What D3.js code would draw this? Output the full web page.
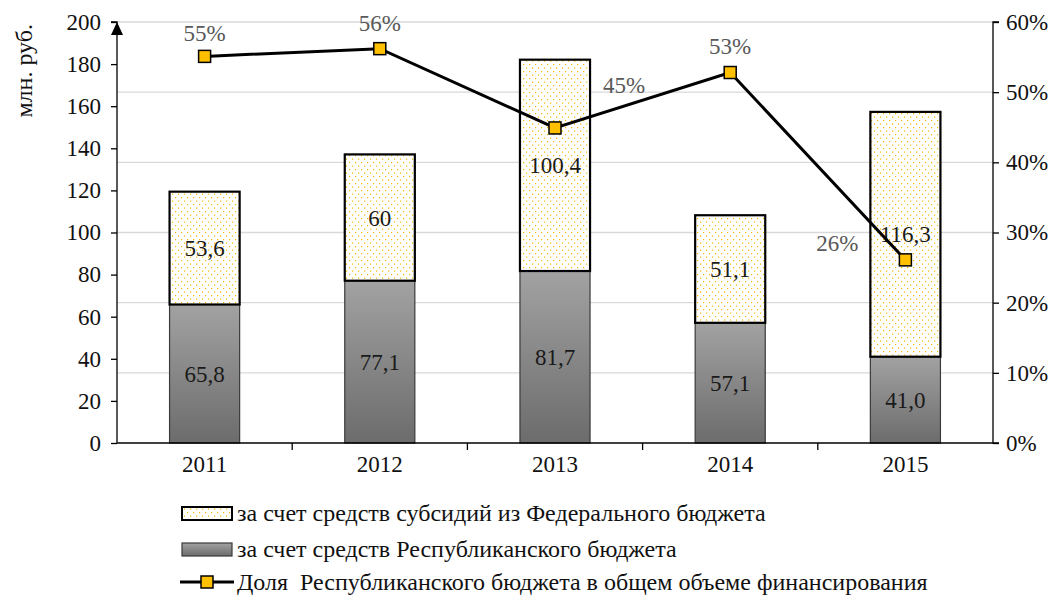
<!DOCTYPE html>
<html><head><meta charset="utf-8">
<script src="https://cdn.jsdelivr.net/npm/d3@7"></script>
<style>body{margin:0;background:#fff;} svg text{font-family:"Liberation Serif","DejaVu Serif",serif !important;}</style>
</head><body>
<script>
const years = ["2011","2012","2013","2014","2015"];
const republican = [65.8, 77.1, 81.7, 57.1, 41.0];
const federal = [53.6, 60, 100.4, 51.1, 116.3];
const republicanLabels = ["65,8","77,1","81,7","57,1","41,0"];
const federalLabels = ["53,6","60","100,4","51,1","116,3"];
const share = [55.1, 56.2, 44.9, 52.8, 26.1];
const shareLabels = ["55%","56%","45%","53%","26%"];
const leftTicks = [0,20,40,60,80,100,120,140,160,180,200];
const rightTicks = [0,10,20,30,40,50,60];
const legendLabels = ["за счет средств субсидий из Федерального бюджета","за счет средств Республиканского бюджета","Доля  Республиканского бюджета в общем объеме финансирования"];

const W=1056,H=597;
const m={l:117,r:993,t:22,b:443};
const FS=23;
const svg=d3.select("body").append("svg").attr("width",W).attr("height",H);
const defs=svg.append("defs");
const pat=defs.append("pattern").attr("id","dots").attr("patternUnits","userSpaceOnUse").attr("width",6).attr("height",7);
pat.append("rect").attr("width",6).attr("height",7).attr("fill","#fff");
pat.append("rect").attr("x",1).attr("y",1).attr("width",1.2).attr("height",1.2).attr("fill","#f5b800");
pat.append("rect").attr("x",4).attr("y",4.5).attr("width",1.2).attr("height",1.2).attr("fill","#f5b800");
const grad=defs.append("linearGradient").attr("id","gray").attr("x1",0).attr("y1",0).attr("x2",0).attr("y2",1);
grad.append("stop").attr("offset","0%").attr("stop-color","#a2a2a2");
grad.append("stop").attr("offset","100%").attr("stop-color","#6c6c6c");

const x=d3.scaleBand().domain(years).range([m.l,m.r]).paddingInner(0.6).paddingOuter(0.3);
const y=d3.scaleLinear().domain([0,200]).range([m.b,m.t]);
const y2=d3.scaleLinear().domain([0,60]).range([m.b,m.t]);

// gridlines from right axis
svg.append("g").selectAll("line").data(rightTicks.filter(d=>d>0)).join("line")
  .attr("x1",m.l).attr("x2",m.r).attr("y1",d=>y2(d)).attr("y2",d=>y2(d))
  .attr("stroke","#d9d9d9").attr("stroke-width",1.3);

// bars
const g=svg.append("g");
years.forEach((yr,i)=>{
  g.append("rect").attr("x",x(yr)).attr("width",x.bandwidth())
   .attr("y",y(republican[i])).attr("height",y(0)-y(republican[i]))
   .attr("fill","url(#gray)").attr("stroke","#3a3a3a").attr("stroke-width",1.2);
  g.append("rect").attr("x",x(yr)).attr("width",x.bandwidth())
   .attr("y",y(republican[i]+federal[i])).attr("height",y(republican[i])-y(republican[i]+federal[i]))
   .attr("fill","url(#dots)").attr("stroke","#000").attr("stroke-width",2.2);
  g.append("text").attr("x",x(yr)+x.bandwidth()/2).attr("y",y(republican[i]/2)+8)
   .attr("text-anchor","middle").attr("font-size",FS).attr("fill","#1a1a1a").text(republicanLabels[i]);
  g.append("text").attr("x",x(yr)+x.bandwidth()/2).attr("y",y(republican[i]+federal[i]/2)+8)
   .attr("text-anchor","middle").attr("font-size",FS).attr("fill","#1a1a1a").text(federalLabels[i]);
});

// axes
const ax=svg.append("g").attr("transform",`translate(${m.l},0)`)
  .call(d3.axisLeft(y).tickValues(leftTicks).tickSize(6).tickPadding(10).tickFormat(d3.format("d")));
const ax2=svg.append("g").attr("transform",`translate(${m.r},0)`)
  .call(d3.axisRight(y2).tickValues(rightTicks).tickSize(6).tickPadding(7).tickFormat(d=>d+"%"));
const xb=svg.append("g").attr("transform",`translate(0,${m.b})`)
  .call(d3.axisBottom(x).tickSize(0).tickPadding(13));
[ax,ax2,xb].forEach(a=>{a.select(".domain").attr("stroke","#000").attr("stroke-width",1.3);
  a.selectAll(".tick line").attr("stroke","#000").attr("stroke-width",1.3);
  a.selectAll("text").attr("font-size",FS).attr("fill","#111");});
ax.select(".domain").attr("d",`M-6,${m.t}H0V${m.b}`);
ax2.select(".domain").attr("d",`M6,${m.t}H0V${m.b}H6`);
xb.select(".domain").attr("d",`M${m.l},0H${m.r}`);
// category boundary ticks
svg.append("g").selectAll("line").data(d3.range(1,years.length)).join("line")
  .attr("x1",d=>m.l+d*(m.r-m.l)/years.length).attr("x2",d=>m.l+d*(m.r-m.l)/years.length)
  .attr("y1",m.b).attr("y2",m.b+7).attr("stroke","#000").attr("stroke-width",1.3);
// arrow
svg.append("path").attr("d",`M${m.l-6},${m.t+13}L${m.l},${m.t}L${m.l+6},${m.t+13}Z`).attr("fill","#000");

// y title
svg.append("text").attr("transform",`translate(32,${m.t+2})rotate(-90)`).attr("text-anchor","end")
  .attr("font-size",24).attr("fill","#111").text("млн. руб.");

// line
const cx=d=>x(d)+x.bandwidth()/2;
const line=d3.line().x((d,i)=>cx(years[i])).y(d=>y2(d));
svg.append("path").datum(share).attr("d",line).attr("fill","none").attr("stroke","#000").attr("stroke-width",3);
svg.append("g").selectAll("rect").data(share).join("rect")
  .attr("x",(d,i)=>cx(years[i])-6).attr("y",d=>y2(d)-6).attr("width",12).attr("height",12)
  .attr("fill","#ffc000").attr("stroke","#000").attr("stroke-width",1.5);
const lblOff=[[0,-15],[0,-18],[69,-35],[0,-19],[-68,-9]];
svg.append("g").selectAll("text").data(share).join("text")
  .attr("x",(d,i)=>cx(years[i])+lblOff[i][0]).attr("y",(d,i)=>y2(d)+lblOff[i][1])
  .attr("text-anchor","middle").attr("font-size",FS).attr("fill","#595959").text((d,i)=>shareLabels[i]);

// legend
const lg=svg.append("g");
const ly=[513,549,582];
lg.append("rect").attr("x",182).attr("y",ly[0]-6).attr("width",50).attr("height",13).attr("fill","url(#dots)").attr("stroke","#000").attr("stroke-width",2);
lg.append("rect").attr("x",182).attr("y",ly[1]-6).attr("width",50).attr("height",13).attr("fill","url(#gray)").attr("stroke","#3a3a3a").attr("stroke-width",1.2);
lg.append("line").attr("x1",180).attr("x2",234).attr("y1",ly[2]).attr("y2",ly[2]).attr("stroke","#000").attr("stroke-width",3);
lg.append("rect").attr("x",201).attr("y",ly[2]-6).attr("width",12).attr("height",12).attr("fill","#ffc000").attr("stroke","#000").attr("stroke-width",1.5);
lg.selectAll("text").data(legendLabels).join("text").attr("x",237).attr("y",(d,i)=>ly[i]+8)
  .attr("font-size",24).attr("fill","#111").attr("xml:space","preserve").style("white-space","pre").text(d=>d);
</script>
</body></html>
